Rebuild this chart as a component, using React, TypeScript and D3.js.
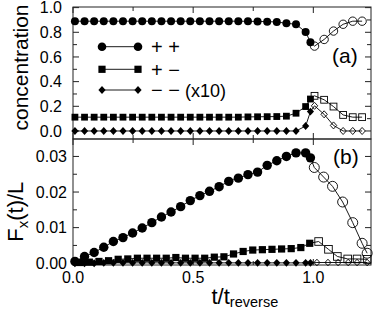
import * as d3 from 'd3';

// time points (t / t_reverse) of the filled markers
const tFilled = [
  0.008, 0.048, 0.088, 0.128, 0.168, 0.208, 0.248, 0.288, 0.328, 0.368, 0.408, 0.448, 0.488,
  0.528, 0.568, 0.608, 0.648, 0.688, 0.728, 0.768, 0.808, 0.848, 0.888, 0.928, 0.968, 0.988,
];

// panel (a): concentrations
const aPlusPlus = [
  0.89, 0.89, 0.89, 0.89, 0.89, 0.89, 0.89, 0.89, 0.89, 0.89, 0.89, 0.89, 0.89, 0.89, 0.89,
  0.89, 0.89, 0.89, 0.889, 0.888, 0.886, 0.884, 0.873, 0.865, 0.802, 0.72,
];
const aPlusMinus = [
  0.112, 0.112, 0.112, 0.112, 0.112, 0.112, 0.112, 0.112, 0.112, 0.112, 0.112, 0.112, 0.112,
  0.112, 0.112, 0.112, 0.112, 0.112, 0.114, 0.115, 0.116, 0.117, 0.12, 0.144, 0.198, 0.259,
];
const aMinusMinus = [
  0, 0, 0, 0, 0, 0, 0, 0, 0, 0, 0, 0, 0, 0, 0, 0, 0, 0, 0, 0, 0, 0, 0, 0, 0.04, 0.157,
];
const tOpenA = [1.005, 1.045, 1.084, 1.124, 1.164, 1.203];
const aPlusPlusOpen = [0.688, 0.742, 0.81, 0.865, 0.89, 0.89];
const aPlusMinusOpen = [0.285, 0.253, 0.198, 0.13, 0.112, 0.112];
const aMinusMinusOpen = [0.204, 0.135, 0.045, 0, 0, 0];

// panel (b): Fx(t)/L
const bPlusPlus = [
  0.0005, 0.0019, 0.003, 0.0045, 0.0061, 0.0072, 0.0085, 0.0099, 0.0114, 0.013, 0.0144, 0.0159,
  0.0176, 0.019, 0.0202, 0.0215, 0.023, 0.0239, 0.0249, 0.0256, 0.0275, 0.0288, 0.03, 0.031,
  0.031, 0.0296,
];
const tOpenBCircle = [1.004, 1.043, 1.08, 1.122, 1.164, 1.203, 1.224];
const bPlusPlusOpen = [0.0269, 0.0242, 0.0216, 0.0172, 0.0114, 0.0056, 0.0028];

const tSquareB = [
  0.028, 0.068, 0.108, 0.148, 0.188, 0.228, 0.268, 0.308, 0.348, 0.388, 0.428, 0.468, 0.508,
  0.548, 0.588, 0.628, 0.668, 0.708, 0.748, 0.788, 0.828, 0.868, 0.908, 0.948, 0.985,
];
const bPlusMinus = [
  0.0002, 0.0003, 0.0005, 0.0007, 0.0011, 0.0012, 0.0014, 0.0014, 0.0014, 0.0014, 0.0016, 0.0014,
  0.0014, 0.0014, 0.0017, 0.0018, 0.0026, 0.0033, 0.0037, 0.0038, 0.0039, 0.004, 0.0041, 0.0044,
  0.0056,
];
const tOpenBSquare = [1.022, 1.063, 1.1, 1.143, 1.182, 1.224];
const bPlusMinusOpen = [0.0061, 0.0039, 0.0019, 0.0012, 0.0012, 0.0011];

const bMinusMinus = [
  0, 0, 0, 0.0001, 0.0001, 0.0001, 0.0001, 0.0001, 0.0001, 0.0001, 0.0001, 0.0001, 0.0001,
  0.0001, 0.0001, 0.0001, 0.0001, 0.0001, 0.0001, 0.0001, 0.0001, 0.0001, 0.0001, 0.0001,
  0.0001, 0.0001,
];
const tOpenBDiamond = [1.015, 1.061, 1.103, 1.145, 1.182, 1.224];
const bMinusMinusOpen = [0.0002, 0.0002, 0.0002, 0.0002, 0.0002, 0.0002];

const xTicksMajor = [0, 0.5, 1.0];
const xTicksMinor = [0.25, 0.75];
const xTickLabels = ['0.0', '0.5', '1.0'];
const aTicksMajor = [0, 0.2, 0.4, 0.6, 0.8, 1.0];
const aTicksMinor = [0.1, 0.3, 0.5, 0.7, 0.9];
const aTickLabels = ['0.0', '0.2', '0.4', '0.6', '0.8', '1.0'];
const bTicksMajor = [0, 0.01, 0.02, 0.03];
const bTicksMinor = [0.005, 0.015, 0.025];
const bTickLabels = ['0.00', '0.01', '0.02', '0.03'];

const legendLabels = ['+ +', '+ \u2212', '\u2212 \u2212'];

const FONT = "'Liberation Sans', Arial, Helvetica, sans-serif";
const W = 381;
const H = 318;
const left = 73;
const right = 371;
const topA = 7;
const midY = 139;
const bottomB = 265;

const x = d3.scaleLinear().domain([0, 1.24]).range([left, right]);
const yA = d3.scaleLinear().domain([-0.065, 1.005]).range([midY, topA]);
const yB = d3.scaleLinear().domain([-0.0005, 0.0349]).range([bottomB, midY]);

type Shape = 'circle' | 'square' | 'diamond';

const Marker = ({ shape, cx, cy, s, open }: { shape: Shape; cx: number; cy: number; s: number; open?: boolean }) => {
  const fill = open ? 'none' : '#000';
  const stroke = '#000';
  if (shape === 'circle') {
    return <circle cx={cx} cy={cy} r={s} fill={fill} stroke={stroke} strokeWidth={open ? 0.9 : 0} />;
  }
  if (shape === 'square') {
    const h = s;
    return (
      <rect x={cx - h} y={cy - h} width={2 * h} height={2 * h} fill={fill} stroke={stroke} strokeWidth={open ? 0.9 : 0} />
    );
  }
  const d = `M${cx},${cy - s * 1.1}L${cx + s},${cy}L${cx},${cy + s * 1.1}L${cx - s},${cy}Z`;
  return <path d={d} fill={fill} stroke={stroke} strokeWidth={open ? 0.9 : 0} />;
};

const Series = ({
  ts,
  vs,
  tsOpen,
  vsOpen,
  y,
  shape,
  s,
  sOpen,
}: {
  ts: number[];
  vs: number[];
  tsOpen: number[];
  vsOpen: number[];
  y: d3.ScaleLinear<number, number>;
  shape: Shape;
  s: number;
  sOpen: number;
}) => {
  const pts: [number, number][] = ts.map((t, i) => [x(t), y(vs[i])]);
  const ptsOpen: [number, number][] = tsOpen.map((t, i) => [x(t), y(vsOpen[i])]);
  const line = d3.line();
  return (
    <g>
      <path d={line([...pts, ...ptsOpen]) || ''} fill="none" stroke="#000" strokeWidth={0.9} />
      {pts.map((p, i) => (
        <Marker key={'f' + i} shape={shape} cx={p[0]} cy={p[1]} s={s} />
      ))}
      {ptsOpen.map((p, i) => (
        <Marker key={'o' + i} shape={shape} cx={p[0]} cy={p[1]} s={sOpen} open />
      ))}
    </g>
  );
};

const Frame = ({
  top,
  bottom,
  y,
  major,
  minor,
}: {
  top: number;
  bottom: number;
  y: d3.ScaleLinear<number, number>;
  major: number[];
  minor: number[];
}) => (
  <g stroke="#222" strokeWidth={1}>
    <rect x={left} y={top} width={right - left} height={bottom - top} fill="none" />
    {xTicksMajor.map((t) => (
      <g key={'xM' + t}>
        <line x1={x(t)} x2={x(t)} y1={top} y2={top + 6} />
        <line x1={x(t)} x2={x(t)} y1={bottom} y2={bottom - 6} />
      </g>
    ))}
    {xTicksMinor.map((t) => (
      <g key={'xm' + t}>
        <line x1={x(t)} x2={x(t)} y1={top} y2={top + 4} />
        <line x1={x(t)} x2={x(t)} y1={bottom} y2={bottom - 4} />
      </g>
    ))}
    {major.map((v) => (
      <g key={'yM' + v}>
        <line x1={left} x2={left + 6} y1={y(v)} y2={y(v)} />
        <line x1={right} x2={right - 6} y1={y(v)} y2={y(v)} />
      </g>
    ))}
    {minor.map((v) => (
      <g key={'ym' + v}>
        <line x1={left} x2={left + 4} y1={y(v)} y2={y(v)} />
        <line x1={right} x2={right - 4} y1={y(v)} y2={y(v)} />
      </g>
    ))}
  </g>
);

export default function App() {
  const legendShapes: Shape[] = ['circle', 'square', 'diamond'];
  const legendY = [46.7, 69.3, 90];
  return (
    <svg
      width={W}
      height={H}
      viewBox={`0 0 ${W} ${H}`}
      style={{ position: 'absolute', left: 0, top: 0, background: '#fff' }}
      fontFamily={FONT}
    >
      <rect width={W} height={H} fill="#fff" />

      {/* panel (a) */}
      <Frame top={topA} bottom={midY} y={yA} major={aTicksMajor} minor={aTicksMinor} />
      <Series ts={tFilled} vs={aMinusMinus} tsOpen={tOpenA} vsOpen={aMinusMinusOpen} y={yA} shape="diamond" s={3.6} sOpen={3.2} />
      <Series ts={tFilled} vs={aPlusMinus} tsOpen={tOpenA} vsOpen={aPlusMinusOpen} y={yA} shape="square" s={3.4} sOpen={3.4} />
      <Series ts={tFilled} vs={aPlusPlus} tsOpen={tOpenA} vsOpen={aPlusPlusOpen} y={yA} shape="circle" s={4} sOpen={4.2} />
      {aTicksMajor.map((v, i) => (
        <text key={'al' + v} x={62} y={yA(v)} dy="0.36em" textAnchor="end" fontSize={16}>
          {aTickLabels[i]}
        </text>
      ))}
      <text x={332} y={63} fontSize={21}>
        (a)
      </text>

      {/* legend */}
      {legendShapes.map((sh, i) => (
        <g key={'lg' + i}>
          <line x1={102} x2={138} y1={legendY[i]} y2={legendY[i]} stroke="#000" strokeWidth={0.9} />
          <Marker shape={sh} cx={102} cy={legendY[i]} s={sh === 'circle' ? 4.3 : 3.6} />
          <Marker shape={sh} cx={138} cy={legendY[i]} s={sh === 'circle' ? 4.3 : 3.6} />
          <text x={151} y={legendY[i]} dy="0.36em" fontSize={20}>
            {legendLabels[i]}
            {i === 2 ? <tspan fontSize={18}> (x10)</tspan> : null}
          </text>
        </g>
      ))}

      {/* panel (b) */}
      <Frame top={midY} bottom={bottomB} y={yB} major={bTicksMajor} minor={bTicksMinor} />
      <Series ts={tFilled} vs={bMinusMinus} tsOpen={tOpenBDiamond} vsOpen={bMinusMinusOpen} y={yB} shape="diamond" s={3.6} sOpen={3} />
      <Series ts={tSquareB} vs={bPlusMinus} tsOpen={tOpenBSquare} vsOpen={bPlusMinusOpen} y={yB} shape="square" s={3.6} sOpen={3.8} />
      <Series ts={tFilled} vs={bPlusPlus} tsOpen={tOpenBCircle} vsOpen={bPlusPlusOpen} y={yB} shape="circle" s={4.7} sOpen={5} />
      {bTicksMajor.map((v, i) => (
        <text key={'bl' + v} x={67} y={yB(v)} dy="0.36em" textAnchor="end" fontSize={16}>
          {bTickLabels[i]}
        </text>
      ))}
      <text x={333} y={164} fontSize={21}>
        (b)
      </text>

      {/* x axis labels */}
      {xTicksMajor.map((t, i) => (
        <text key={'xl' + t} x={x(t)} y={282.5} textAnchor="middle" fontSize={16}>
          {xTickLabels[i]}
        </text>
      ))}
      <text x={211.5} y={303.5} fontSize={22}>
        t/t
        <tspan fontSize={14.5} dy={3.5}>
          reverse
        </tspan>
      </text>

      {/* y axis titles */}
      <text transform="translate(28.3,67.5) rotate(-90)" textAnchor="middle" fontSize={21}>
        concentration
      </text>
      <text transform="translate(23.3,211.7) rotate(-90)" textAnchor="middle" fontSize={22}>
        F
        <tspan fontSize={15} dy={5}>
          x
        </tspan>
        <tspan dy={-5}>(t)/L</tspan>
      </text>
    </svg>
  );
}
